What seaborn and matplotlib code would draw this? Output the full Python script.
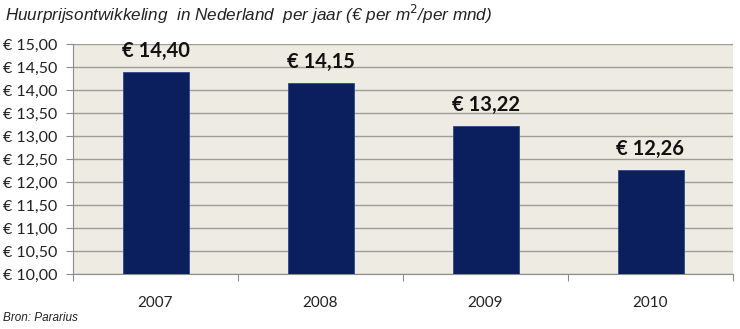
import matplotlib
matplotlib.use("Agg")
import matplotlib.pyplot as plt
import seaborn as sns
import pandas as pd
import numpy as np

years = ["2007", "2008", "2009", "2010"]
prices = [14.40, 14.15, 13.22, 12.26]
y_ticks = [10.0, 10.5, 11.0, 11.5, 12.0, 12.5, 13.0, 13.5, 14.0, 14.5, 15.0]

title = "Huurprijsontwikkeling  in Nederland  per jaar (€ per m$^2$/per mnd)"
source = "Bron: Pararius"


def euro(v):
    return "€ " + f"{v:.2f}".replace(".", ",")


sns.set_theme(style="white")
plt.rcParams["font.family"] = ["Lato", "DejaVu Sans"]

df = pd.DataFrame({"jaar": years, "prijs": prices})

fig = plt.figure(figsize=(7.4, 3.29), dpi=100)
ax = fig.add_axes([73 / 740, 1 - 274 / 329, 660 / 740, 230 / 329])
ax.set_facecolor("#EEEBE2")

sns.barplot(data=df, x="jaar", y="prijs", color="#0B1F5E", saturation=1,
            width=0.4, ax=ax, zorder=3, edgecolor="#2A4A8A", linewidth=0.6)

ax.set_ylim(10, 15)
ax.set_xlim(-0.5, len(years) - 0.5)
ax.set_yticks(y_ticks)
ax.set_yticklabels([euro(v) for v in y_ticks], fontsize=11.5, color="#222222")
ax.set_xticks(range(len(years)))
ax.set_xticklabels(years, fontsize=11, color="#222222")
ax.tick_params(axis="x", length=0, pad=16)
ax.tick_params(axis="y", length=5, width=0.8, color="#8C8C8C", left=True, pad=6)

# minor ticks between categories on the x-axis
ax.set_xticks(np.arange(-0.5, len(years), 1.0), minor=True)
ax.tick_params(axis="x", which="minor", length=5, width=0.8, color="#8C8C8C", bottom=True)

ax.yaxis.grid(True, color="#9E9E98", linewidth=1.0, zorder=0)
ax.set_axisbelow(True)
for side in ["top", "right"]:
    ax.spines[side].set_visible(False)
for side in ["left", "bottom"]:
    ax.spines[side].set_color("#8C8C8C")
    ax.spines[side].set_linewidth(0.8)
ax.set_xlabel("")
ax.set_ylabel("")

for i, v in enumerate(prices):
    ax.annotate(euro(v), (i, v), xytext=(0, 8), textcoords="offset points",
                ha="center", va="bottom", fontsize=14.5, fontweight="bold",
                color="#111111")

fig.text(5 / 740, 1 - 14 / 329, title, ha="left", va="center",
         fontsize=12.3, style="italic", family=["Liberation Sans", "DejaVu Sans"],
         color="#222222")
fig.text(3 / 740, 1 - 318 / 329, source, ha="left", va="center",
         fontsize=8.5, style="italic",
         family=["Liberation Sans Narrow", "Liberation Sans", "DejaVu Sans"],
         color="#222222")

fig.savefig("out.png", dpi=100, facecolor="white")
